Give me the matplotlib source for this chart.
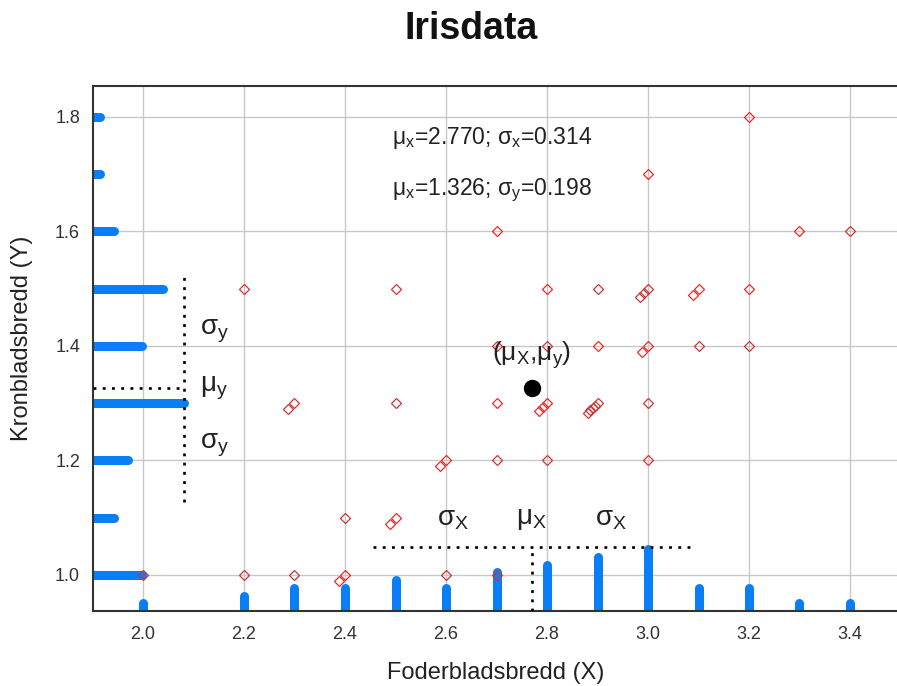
import numpy as np
import matplotlib
matplotlib.use('Agg')
import matplotlib.pyplot as plt
from collections import Counter

plt.rcParams['font.family'] = ['Liberation Sans', 'DejaVu Sans']
plt.rcParams['mathtext.fontset'] = 'custom'
plt.rcParams['mathtext.rm'] = 'Liberation Sans'
plt.rcParams['mathtext.it'] = 'Liberation Sans:italic'

# Iris versicolor: sepal width (X) and petal width (Y)
sepal_width = [3.2, 3.2, 3.1, 2.3, 2.8, 2.8, 3.3, 2.4, 2.9, 2.7,
               2.0, 3.0, 2.2, 2.9, 2.9, 3.1, 3.0, 2.7, 2.2, 2.5,
               3.2, 2.8, 2.5, 2.8, 2.9, 3.0, 2.8, 3.0, 2.9, 2.6,
               2.4, 2.4, 2.7, 2.7, 3.0, 3.4, 3.1, 2.3, 3.0, 2.5,
               2.6, 3.0, 2.6, 2.3, 2.7, 3.0, 2.9, 2.9, 2.5, 2.8]
petal_width = [1.4, 1.5, 1.5, 1.3, 1.5, 1.3, 1.6, 1.0, 1.3, 1.4,
               1.0, 1.5, 1.0, 1.4, 1.3, 1.4, 1.5, 1.0, 1.5, 1.1,
               1.8, 1.3, 1.5, 1.2, 1.3, 1.4, 1.4, 1.7, 1.5, 1.0,
               1.1, 1.0, 1.2, 1.6, 1.5, 1.6, 1.5, 1.3, 1.3, 1.3,
               1.2, 1.4, 1.2, 1.0, 1.3, 1.2, 1.3, 1.3, 1.1, 1.3]

x_ticks = [2.0, 2.2, 2.4, 2.6, 2.8, 3.0, 3.2, 3.4]
y_ticks = [1.0, 1.2, 1.4, 1.6, 1.8]

blue = '#0a7ff5'
red = '#d83030'
xmin, xmax = 1.9, 3.5
ymin, ymax = 0.937, 1.855

x = np.array(sepal_width)
y = np.array(petal_width)
mx, sx = x.mean(), x.std(ddof=1)
my, sy = y.mean(), y.std(ddof=1)

fig = plt.figure(figsize=(8.97, 6.86), dpi=100)
ax = fig.add_axes([92.5 / 897, 75 / 686, 808 / 897, 525.5 / 686])
ax.set_xlim(xmin, xmax)
ax.set_ylim(ymin, ymax)
ax.set_xticks(x_ticks)
ax.set_yticks(y_ticks)
ax.set_xticklabels([f'{v:.1f}' for v in x_ticks])
ax.set_yticklabels([f'{v:.1f}' for v in y_ticks])
ax.grid(True, color='#c8c8c8', linewidth=1.0)
ax.set_axisbelow(True)
ax.tick_params(length=0, labelsize=13, colors='#333333')
ax.tick_params(axis='x', pad=11)
ax.tick_params(axis='y', pad=9)
for side in ['left', 'bottom', 'top', 'right']:
    ax.spines[side].set_color('#333333')
    ax.spines[side].set_linewidth(1.5)

# marginal count bars
cx = Counter(sepal_width)
cy = Counter(petal_width)
kx, ky = 0.0135, 0.0139
for v, c in cx.items():
    ax.plot([v, v], [ymin, ymin + c * kx], color=blue, lw=6.5,
            solid_capstyle='round', zorder=2)
for v, c in cy.items():
    ax.plot([xmin, xmin + c * ky], [v, v], color=blue, lw=6.5,
            solid_capstyle='round', zorder=2)

# scatter, duplicates shifted diagonally
seen = Counter()
tot = Counter(zip(sepal_width, petal_width))
px, py = [], []
for a, b in zip(sepal_width, petal_width):
    k = seen[(a, b)]
    n = tot[(a, b)]
    seen[(a, b)] += 1
    step = 12.0 / n
    px.append(a - k * step / 505)
    py.append(b - k * step / 572.5)
ax.plot(px, py, 'D', ms=5, mfc='none', mec=red, mew=0.9, zorder=3)

# mean point
ax.plot([mx], [my], 'o', color='black', ms=11.5, zorder=5)
ax.text(mx, my + 0.058, r'($\mathregular{μ_X}$,$\mathregular{μ_y}$)',
        ha='center', va='center', fontsize=19, color='#222222')

# dotted guides for Y
dots = dict(color='black', lw=1.9, linestyle=(0, (1.1, 2.4)), zorder=4)
xv = xmin + max(cy.values()) * ky
ax.plot([xv, xv], [my - sy, my + sy], **dots)
ax.plot([xmin, xv], [my, my], **dots)
ax.text(xv + 0.033, my + sy / 2, r'$\mathregular{σ_y}$', ha='left', va='center', fontsize=20, color='#222222')
ax.text(xv + 0.033, my, r'$\mathregular{μ_y}$', ha='left', va='center', fontsize=20, color='#222222')
ax.text(xv + 0.033, my - sy / 2, r'$\mathregular{σ_y}$', ha='left', va='center', fontsize=20, color='#222222')

# dotted guides for X
yh = ymin + max(cx.values()) * kx + 0.003
ax.plot([mx - sx, mx + sx], [yh, yh], **dots)
ax.plot([mx, mx], [ymin, yh], **dots)
ax.text(mx - sx / 2, 1.098, r'$\mathregular{σ_X}$', ha='center', va='center', fontsize=20, color='#222222')
ax.text(mx, 1.098, r'$\mathregular{μ_X}$', ha='center', va='center', fontsize=20, color='#222222')
ax.text(mx + sx / 2, 1.098, r'$\mathregular{σ_X}$', ha='center', va='center', fontsize=20, color='#222222')

# summary text
ax.text(2.494, 1.763, f'$\\mathregular{{μ_x}}$={mx:.3f}; $\\mathregular{{σ_x}}$={sx:.3f}',
        ha='left', va='center', fontsize=16.5, color='#222222')
ax.text(2.494, 1.672, f'$\\mathregular{{μ_x}}$={my:.3f}; $\\mathregular{{σ_y}}$={sy:.3f}',
        ha='left', va='center', fontsize=16.5, color='#222222')

fig.text(471 / 897, 1 - 29 / 686, 'Irisdata', ha='center', va='center',
         fontsize=27, fontweight='bold', color='#111111')
fig.text(496 / 897, 1 - 673 / 686, 'Foderbladsbredd (X)', ha='center', va='center',
         fontsize=17, color='#222222')
fig.text(22 / 897, 1 - 338 / 686, 'Kronbladsbredd (Y)', ha='center', va='center',
         fontsize=17, rotation=90, color='#222222')

fig.savefig('out.png', dpi=100)
